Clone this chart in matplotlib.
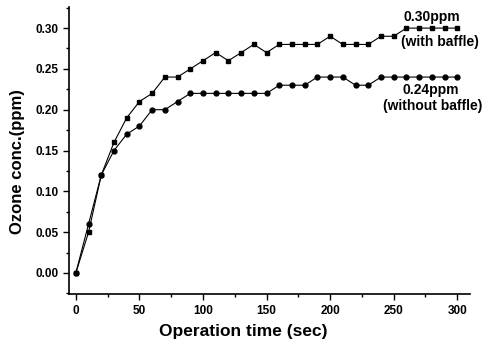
import matplotlib
matplotlib.use('Agg')
import matplotlib.pyplot as plt
from matplotlib.ticker import MultipleLocator

plt.rcParams['font.family'] = ['Liberation Sans', 'DejaVu Sans']
plt.rcParams['font.weight'] = 'bold'

# Operation time (sec)
time_sec = [0, 10, 20, 30, 40, 50, 60, 70, 80, 90, 100, 110, 120, 130, 140, 150,
            160, 170, 180, 190, 200, 210, 220, 230, 240, 250, 260, 270, 280, 290, 300]

# Ozone concentration (ppm)
with_baffle = [0.00, 0.05, 0.12, 0.16, 0.19, 0.21, 0.22, 0.24, 0.24, 0.25, 0.26,
               0.27, 0.26, 0.27, 0.28, 0.27, 0.28, 0.28, 0.28, 0.28, 0.29, 0.28,
               0.28, 0.28, 0.29, 0.29, 0.30, 0.30, 0.30, 0.30, 0.30]
without_baffle = [0.00, 0.06, 0.12, 0.15, 0.17, 0.18, 0.20, 0.20, 0.21, 0.22, 0.22,
                  0.22, 0.22, 0.22, 0.22, 0.22, 0.23, 0.23, 0.23, 0.24, 0.24, 0.24,
                  0.23, 0.23, 0.24, 0.24, 0.24, 0.24, 0.24, 0.24, 0.24]

fig = plt.figure(figsize=(4.85, 3.44), dpi=100)
ax = fig.add_axes([0.142, 0.145, 0.827, 0.835])

ax.plot(time_sec, with_baffle, '-s', color='black', lw=0.8, ms=3.5)
ax.plot(time_sec, without_baffle, '-o', color='black', lw=0.8, ms=3.5)

ax.set_xlim(-5.5, 310)
ax.set_ylim(-0.026, 0.326)
ax.xaxis.set_major_locator(MultipleLocator(50))
ax.xaxis.set_minor_locator(MultipleLocator(25))
ax.yaxis.set_major_locator(MultipleLocator(0.05))
ax.yaxis.set_minor_locator(MultipleLocator(0.025))
ax.yaxis.set_major_formatter(plt.FuncFormatter(lambda v, p: f'{v:.2f}'))

for side in ['top', 'right']:
    ax.spines[side].set_visible(False)
ax.spines['left'].set_linewidth(1.2)
ax.spines['bottom'].set_linewidth(1.2)
ax.tick_params(which='major', direction='out', length=4, width=1, labelsize=8.5)
ax.tick_params(which='minor', direction='out', length=2, width=1)

ax.set_xlabel('Operation time (sec)', fontsize=12.5, fontweight='bold')
ax.set_ylabel('Ozone conc.(ppm)', fontsize=12, fontweight='bold')
ax.xaxis.set_label_coords(0.435, -0.105)
ax.yaxis.set_label_coords(-0.11, 0.46)

ax.text(280, 0.313, '0.30ppm', ha='center', va='center', fontsize=10, fontweight='bold')
ax.text(286.5, 0.283, '(with baffle)', ha='center', va='center', fontsize=10, fontweight='bold')
ax.text(279.5, 0.224, '0.24ppm', ha='center', va='center', fontsize=10, fontweight='bold')
ax.text(281, 0.2045, '(without baffle)', ha='center', va='center', fontsize=10, fontweight='bold')

fig.savefig('out.png', dpi=100)
